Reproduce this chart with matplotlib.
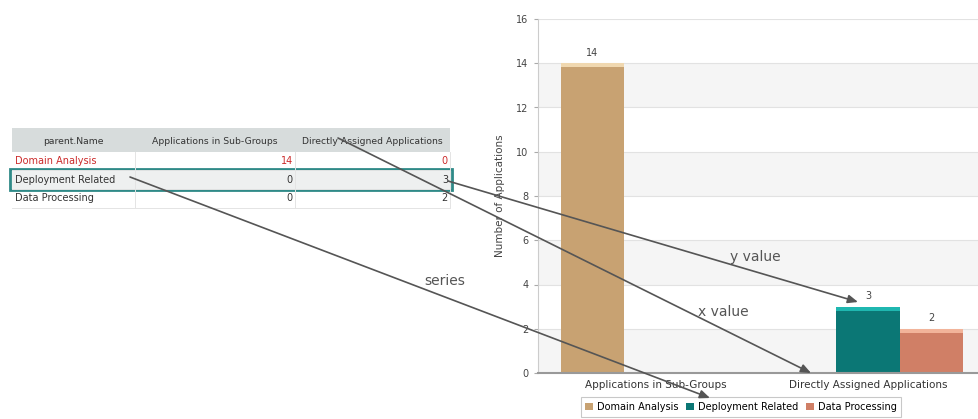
import matplotlib
matplotlib.use("Agg")
import matplotlib.pyplot as plt
from matplotlib.patches import Rectangle, Patch
import numpy as np

plt.rcParams['font.family'] = ['DejaVu Sans']

categories = ["Applications in Sub-Groups", "Directly Assigned Applications"]
series_names = ["Domain Analysis", "Deployment Related", "Data Processing"]
domain_vals = [14, 0]
deploy_vals = [0, 3]
dataproc_vals = [0, 2]
series_values = [domain_vals, deploy_vals, dataproc_vals]
series_colors = ["#c8a272", "#0b7775", "#d07f66"]
series_tops = ["#f0d8b0", "#1fb7b0", "#f2b49a"]
yticks = [0, 2, 4, 6, 8, 10, 12, 14, 16]

W, H = 979, 419
fig = plt.figure(figsize=(W / 100, H / 100), dpi=100)

# ---------- chart ----------
ax = fig.add_axes([538 / W, (H - 373) / H, (W - 538) / W, (373 - 19) / H])
bw = 0.30
x = np.arange(len(categories))
for k in range(0, 16, 4):
    ax.axhspan(k, k + 2, color="#f5f5f5", zorder=0, lw=0)
for t in yticks:
    ax.axhline(t, color="#e2e2e2", lw=0.8, zorder=0.5)
for i, (name, vals) in enumerate(zip(series_names, series_values)):
    pos = x + (i - 1) * bw
    bars = ax.bar(pos, vals, width=bw, color=series_colors[i], zorder=2,
                  edgecolor="none", label=name)
    for b, v in zip(bars, vals):
        if v > 0:
            ax.add_patch(Rectangle((b.get_x(), v - 0.18), bw, 0.18,
                                   color=series_tops[i], zorder=3, lw=0))
            ax.text(b.get_x() + bw / 2, v + 0.25, str(v), ha="center",
                    va="bottom", fontsize=7, color="#444444")
ax.set_xlim(-0.557, 1.524)
ax.set_ylim(0, 16)
ax.set_yticks(yticks)
ax.set_yticklabels([str(t) for t in yticks], fontsize=7, color="#444444")
ax.set_xticks(x)
ax.set_xticklabels(categories, fontsize=7.5, color="#333333")
ax.tick_params(axis="y", length=3, color="#aaaaaa", pad=4)
ax.tick_params(axis="x", length=0, pad=5)
for s in ["top", "right"]:
    ax.spines[s].set_visible(False)
ax.spines["left"].set_color("#cccccc")
ax.spines["bottom"].set_color("#999999")
ax.spines["bottom"].set_linewidth(1.5)
ax.set_ylabel("Number of Applications", fontsize=7.5, color="#444444", labelpad=8)
ax.set_facecolor("white")

handles = [Patch(facecolor=c, edgecolor="none") for c in series_colors]
leg = fig.legend(handles, series_names, loc="center",
                 bbox_to_anchor=(741 / W, 1 - 407 / H), ncol=3, fontsize=7,
                 frameon=True, fancybox=False, handlelength=0.8, handleheight=0.8,
                 handletextpad=0.4, columnspacing=0.8, borderpad=0.5)
leg.get_frame().set_edgecolor("#bbbbbb")
leg.get_frame().set_linewidth(0.8)

# ---------- overlay: table + arrows ----------
ov = fig.add_axes([0, 0, 1, 1], zorder=10)
ov.set_xlim(0, W)
ov.set_ylim(H, 0)
ov.axis("off")
ov.patch.set_alpha(0)

col_edges = [12, 135, 295, 450]
header_top, header_bot = 128, 152
row_h = 18.5
ov.add_patch(Rectangle((col_edges[0], header_top), col_edges[-1] - col_edges[0],
                       header_bot - header_top, color="#d7dcdc", lw=0))
headers = ["parent.Name"] + categories
for j, h in enumerate(headers):
    ov.text((col_edges[j] + col_edges[j + 1]) / 2, (header_top + header_bot) / 2 + 1,
            h, ha="center", va="center", fontsize=6.7, color="#333333")
for r, name in enumerate(series_names):
    y0 = header_bot + r * row_h
    if r == 1:
        ov.add_patch(Rectangle((col_edges[0], y0), col_edges[-1] - col_edges[0],
                               row_h, color="#eef0f0", lw=0))
    col = "#cc2b2b" if r == 0 else "#333333"
    ov.text(col_edges[0] + 3, y0 + row_h / 2, name, ha="left", va="center",
            fontsize=7, color=col)
    for j in range(len(categories)):
        ov.text(col_edges[j + 2] - 2, y0 + row_h / 2, str(series_values[r][j]),
                ha="right", va="center", fontsize=7, color=col)
    ov.plot([col_edges[0], col_edges[-1]], [y0 + row_h, y0 + row_h],
            color="#e4e4e4", lw=0.7)
for xe in col_edges[1:-1]:
    ov.plot([xe, xe], [header_bot, header_bot + 3 * row_h], color="#e4e4e4", lw=0.7)
ov.plot([col_edges[-1], col_edges[-1]], [header_bot, header_bot + 3 * row_h],
        color="#e4e4e4", lw=0.7)
ov.add_patch(Rectangle((10, header_bot + row_h - 1.5), 442, row_h + 3, fill=False,
                       edgecolor="#2f8a88", lw=2))

arrow_kw = dict(arrowstyle="-|>,head_length=0.6,head_width=0.25",
                color="#555555", lw=1.2, shrinkA=0, shrinkB=0)
ov.annotate("", xy=(710, 398), xytext=(130, 177), arrowprops=arrow_kw)
ov.annotate("", xy=(811, 373), xytext=(338, 138), arrowprops=arrow_kw)
ov.annotate("", xy=(858, 302), xytext=(448, 181), arrowprops=arrow_kw)
ov.text(445, 281, "series", fontsize=10, color="#555555", ha="center", va="center")
ov.text(723, 312, "x value", fontsize=10, color="#555555", ha="center", va="center")
ov.text(755, 257, "y value", fontsize=10, color="#555555", ha="center", va="center")

fig.savefig("out.png", dpi=100)
